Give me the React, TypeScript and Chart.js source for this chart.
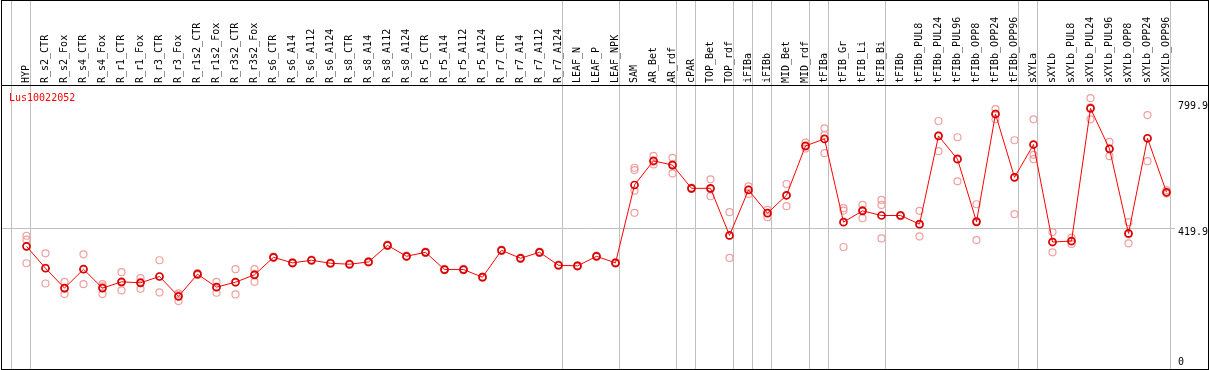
import React, { useEffect, useRef } from 'react';
import { Chart, registerables } from 'chart.js';

Chart.register(...registerables);

const geneId = 'Lus10022052';

const categories = [
  'HYP', 'R_s2_CTR', 'R_s2_Fox', 'R_s4_CTR', 'R_s4_Fox', 'R_r1_CTR', 'R_r1_Fox', 'R_r3_CTR', 'R_r3_Fox',
  'R_r1s2_CTR', 'R_r1s2_Fox', 'R_r3s2_CTR', 'R_r3s2_Fox', 'R_s6_CTR', 'R_s6_A14', 'R_s6_A112', 'R_s6_A124',
  'R_s8_CTR', 'R_s8_A14', 'R_s8_A112', 'R_s8_A124', 'R_r5_CTR', 'R_r5_A14', 'R_r5_A112', 'R_r5_A124',
  'R_r7_CTR', 'R_r7_A14', 'R_r7_A112', 'R_r7_A124', 'LEAF_N', 'LEAF_P', 'LEAF_NPK', 'SAM', 'AR_Bet', 'AR_rdf',
  'cPAR', 'TOP_Bet', 'TOP_rdf', 'iFIBa', 'iFIBb', 'MID_Bet', 'MID_rdf', 'tFIBa', 'tFIB_Gr', 'tFIB_Li', 'tFIB_Bi',
  'tFIBb', 'tFIBb_PUL8', 'tFIBb_PUL24', 'tFIBb_PUL96', 'tFIBb_OPP8', 'tFIBb_OPP24', 'tFIBb_OPP96', 'sXYLa',
  'sXYLb', 'sXYLb_PUL8', 'sXYLb_PUL24', 'sXYLb_PUL96', 'sXYLb_OPP8', 'sXYLb_OPP24', 'sXYLb_OPP96',
];

const meanValues = [
  366, 300, 240, 297, 240, 259, 256, 275, 215, 282, 243, 258, 280, 333, 316, 324, 315, 312, 319, 369, 336,
  348, 296, 296, 273, 354, 330, 348, 309, 307, 336, 316, 551, 624, 611, 541, 541, 399, 536, 466, 520, 669,
  690, 439, 473, 459, 459, 433, 699, 629, 440, 765, 574, 673, 379, 382, 782, 660, 405, 692, 529,
];

const replicate1 = [
  398, 345, 259, 342, 252, 288, 270, 324, 224, 285, 259, 297, 297, 335, 318, 326, 317, 314, 321, 371, 338,
  350, 298, 298, 275, 356, 332, 350, 311, 309, 338, 318, 603, 639, 633, 543, 568, 469, 547, 476, 554, 679,
  722, 481, 491, 506, 461, 473, 744, 695, 493, 780, 686, 749, 409, 392, 813, 681, 439, 762, 535,
];

const replicate2 = [
  386, 301, 238, 298, 245, 256, 259, 275, 220, 282, 243, 257, 283, 333, 316, 324, 315, 312, 319, 369, 336,
  348, 296, 296, 273, 354, 330, 348, 309, 307, 336, 316, 596, 621, 614, 541, 538, 398, 537, 467, 519, 667,
  702, 474, 476, 491, 459, 430, 700, 631, 443, 766, 574, 642, 380, 381, 785, 660, 402, 691, 527,
];

const replicate3 = [
  315, 254, 222, 252, 222, 233, 238, 227, 201, 279, 226, 221, 259, 331, 314, 322, 313, 310, 317, 367, 334,
  346, 294, 294, 271, 352, 328, 346, 307, 305, 334, 314, 534, 613, 586, 539, 517, 331, 524, 454, 487, 661,
  647, 364, 451, 390, 457, 396, 653, 562, 385, 749, 463, 629, 348, 373, 749, 638, 375, 623, 525,
];

const replicate4Categories = ['SAM'];
const replicate4Values = [467];

const groupBoundaries = [0, 1, 29, 32, 35, 36, 38, 39, 40, 42, 43, 46, 53, 54, 61];
const yTickValues = [0, 419.9, 799.9];
const yTickLabels = ['0', '419.9', '799.9'];

const FONT = '"DejaVu Sans Mono", monospace';
const BOUNDARY_SHIFT = 15 / 19;

const framePlugin = {
  id: 'frame',
  afterDraw(chart: any) {
    const ctx = chart.ctx;
    ctx.save();
    ctx.strokeStyle = '#000000';
    ctx.lineWidth = 1;
    ctx.beginPath();
    ctx.moveTo(1.5, 0);
    ctx.lineTo(1.5, 370);
    ctx.moveTo(1208.5, 0);
    ctx.lineTo(1208.5, 370);
    ctx.moveTo(1, 0.5);
    ctx.lineTo(1209, 0.5);
    ctx.moveTo(1, 85.5);
    ctx.lineTo(1209, 85.5);
    ctx.moveTo(1, 369.5);
    ctx.lineTo(1209, 369.5);
    ctx.stroke();
    ctx.fillStyle = '#ff0000';
    ctx.font = '10px ' + FONT;
    ctx.textBaseline = 'alphabetic';
    ctx.textAlign = 'left';
    ctx.fillText(geneId, 9, 100.5);
    ctx.restore();
  },
};

const noPadding = (scale: any) => {
  scale.paddingLeft = 0;
  scale.paddingRight = 0;
  scale.paddingTop = 0;
  scale.paddingBottom = 0;
};

export default function App() {
  const canvasRef = useRef<HTMLCanvasElement | null>(null);

  useEffect(() => {
    const canvas = canvasRef.current;
    if (!canvas) return;

    const toPoints = (arr: number[]) => arr.map((v, i) => ({ x: i, y: v }));
    const rep4Points = replicate4Categories.map((c, j) => ({ x: categories.indexOf(c), y: replicate4Values[j] }));

    const repStyle = {
      showLine: false,
      pointRadius: 3.5,
      pointBorderColor: '#f0a0a0',
      pointBackgroundColor: 'rgba(0,0,0,0)',
      pointBorderWidth: 1.2,
      borderColor: '#f0a0a0',
      order: 1,
    };

    const xMin = -24.5 / 19;
    const xMax = xMin + 1169 / 19;

    const chart = new Chart(canvas, {
      type: 'line',
      data: {
        datasets: [
          {
            label: 'mean',
            data: toPoints(meanValues),
            borderColor: '#ff0000',
            borderWidth: 1,
            pointRadius: 3.5,
            pointBorderColor: '#d80000',
            pointBorderWidth: 1.7,
            pointBackgroundColor: 'rgba(0,0,0,0)',
            tension: 0,
            order: 0,
          },
          { label: 'r1', data: toPoints(replicate1), ...repStyle },
          { label: 'r2', data: toPoints(replicate2), ...repStyle },
          { label: 'r3', data: toPoints(replicate3), ...repStyle },
          { label: 'r4', data: rep4Points, ...repStyle },
        ],
      },
      options: {
        responsive: false,
        animation: false,
        devicePixelRatio: 1,
        events: [],
        layout: { autoPadding: false, padding: { left: 2, right: 0, top: 0, bottom: 1 } },
        plugins: {
          legend: { display: false },
          tooltip: { enabled: false },
          title: { display: false },
        },
        scales: {
          x: {
            type: 'linear',
            position: 'top',
            weight: 10,
            min: xMin,
            max: xMax,
            afterBuildTicks: (scale: any) => {
              scale.ticks = categories.map((_, i) => ({ value: i }));
            },
            afterFit: (scale: any) => {
              scale.height = 86;
              noPadding(scale);
            },
            grid: { display: false, drawTicks: false },
            border: { display: false },
            ticks: {
              autoSkip: false,
              minRotation: 90,
              maxRotation: 90,
              padding: 3,
              labelOffset: 11.5,
              color: '#000000',
              font: { family: FONT, size: 10 },
              callback: (value: any) => categories[Math.round(Number(value))] ?? '',
            },
          },
          xg: {
            type: 'linear',
            position: 'top',
            weight: 0,
            min: xMin,
            max: xMax,
            afterBuildTicks: (scale: any) => {
              scale.ticks = groupBoundaries.map((b) => ({ value: b - BOUNDARY_SHIFT }));
            },
            afterFit: (scale: any) => {
              scale.height = 0;
              noPadding(scale);
            },
            grid: { display: true, color: '#c0c0c0', lineWidth: 1, drawTicks: true, tickLength: 86 },
            border: { display: false },
            ticks: { display: false },
          },
          y: {
            type: 'linear',
            position: 'right',
            min: -3.92,
            max: 849.57,
            afterBuildTicks: (scale: any) => {
              scale.ticks = yTickValues.map((v) => ({ value: v }));
            },
            afterFit: (scale: any) => {
              scale.width = 38;
              noPadding(scale);
            },
            grid: {
              display: true,
              drawTicks: true,
              tickLength: 4,
              lineWidth: 1,
              color: (ctx: any) => (ctx.tick && ctx.tick.value === 419.9 ? '#c0c0c0' : 'rgba(0,0,0,0)'),
            },
            border: { display: false },
            ticks: {
              autoSkip: false,
              padding: 3,
              labelOffset: 4,
              color: '#000000',
              font: (ctx: any) =>
                ctx.tick && ctx.tick.value === 0
                  ? { family: FONT, size: 10, lineHeight: 1.8 }
                  : { family: FONT, size: 10 },
              callback: (value: any) => {
                const idx = yTickValues.indexOf(Number(value));
                const text = idx >= 0 ? yTickLabels[idx] : '';
                return Number(value) === 0 ? [text, ''] : text;
              },
            },
          },
        },
      },
      plugins: [framePlugin],
    } as any);

    return () => {
      chart.destroy();
    };
  }, []);

  return (
    <div style={{ position: 'absolute', left: 0, top: 0, width: 1209, height: 370, background: '#ffffff' }}>
      <canvas ref={canvasRef} width={1209} height={370} style={{ display: 'block' }} />
    </div>
  );
}
